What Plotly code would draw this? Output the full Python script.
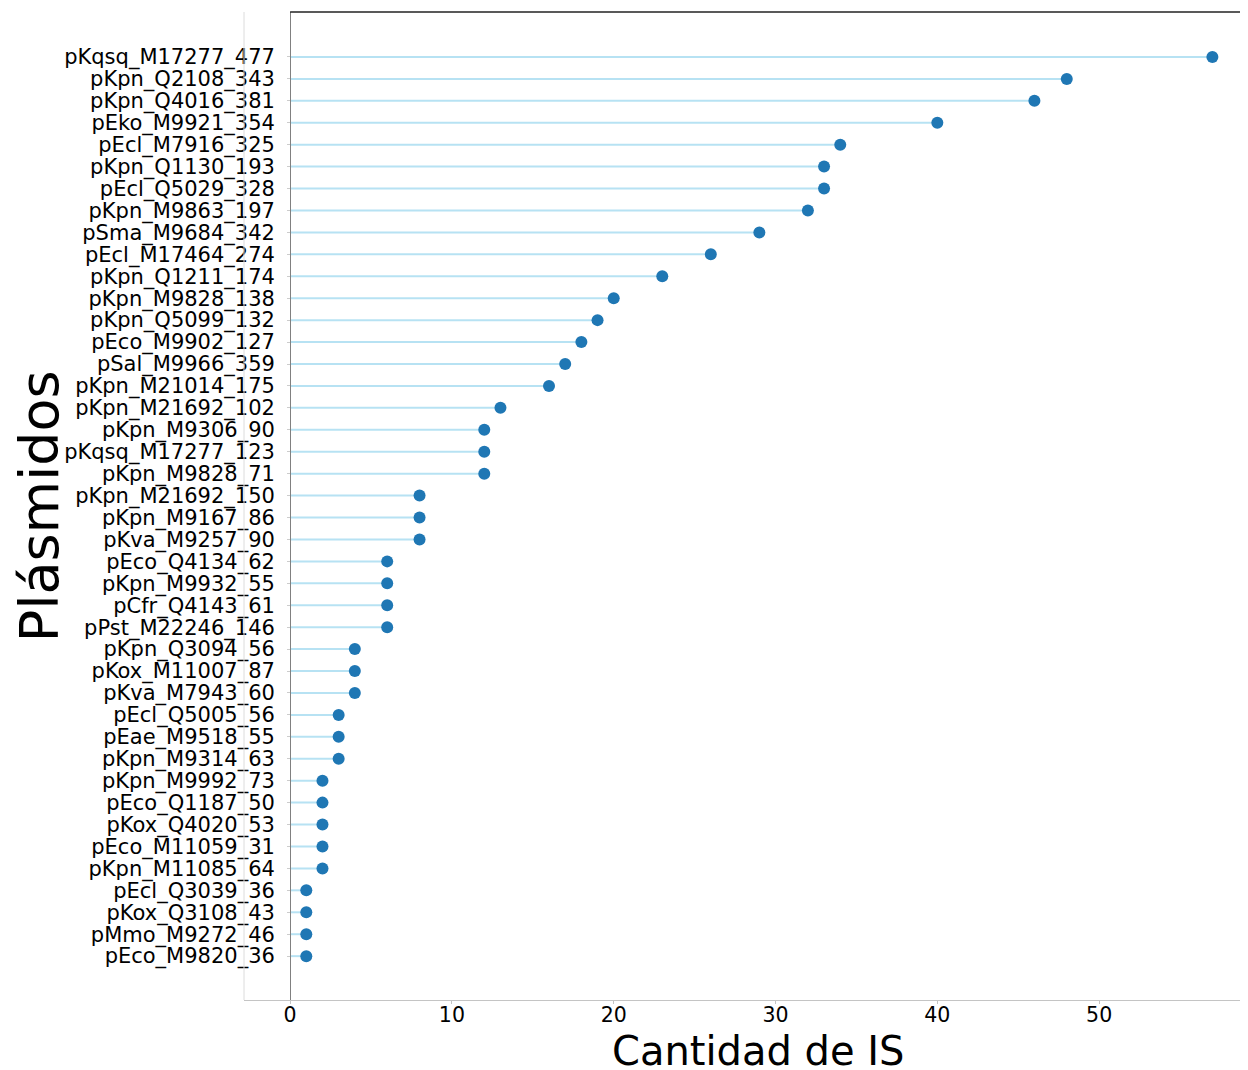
import plotly.graph_objects as go

plasmids = [
    "pKqsq_M17277_477", "pKpn_Q2108_343", "pKpn_Q4016_381", "pEko_M9921_354",
    "pEcl_M7916_325", "pKpn_Q1130_193", "pEcl_Q5029_328", "pKpn_M9863_197",
    "pSma_M9684_342", "pEcl_M17464_274", "pKpn_Q1211_174", "pKpn_M9828_138",
    "pKpn_Q5099_132", "pEco_M9902_127", "pSal_M9966_359", "pKpn_M21014_175",
    "pKpn_M21692_102", "pKpn_M9306_90", "pKqsq_M17277_123", "pKpn_M9828_71",
    "pKpn_M21692_150", "pKpn_M9167_86", "pKva_M9257_90", "pEco_Q4134_62",
    "pKpn_M9932_55", "pCfr_Q4143_61", "pPst_M22246_146", "pKpn_Q3094_56",
    "pKox_M11007_87", "pKva_M7943_60", "pEcl_Q5005_56", "pEae_M9518_55",
    "pKpn_M9314_63", "pKpn_M9992_73", "pEco_Q1187_50", "pKox_Q4020_53",
    "pEco_M11059_31", "pKpn_M11085_64", "pEcl_Q3039_36", "pKox_Q3108_43",
    "pMmo_M9272_46", "pEco_M9820_36",
]
is_count = [
    57, 48, 46, 40, 34, 33, 33, 32, 29, 26, 23, 20, 19, 18, 17, 16, 13, 12, 12, 12,
    8, 8, 8, 6, 6, 6, 6, 4, 4, 4, 3, 3, 3, 2, 2, 2, 2, 2, 1, 1, 1, 1,
]
x_ticks = [0, 10, 20, 30, 40, 50]

xmin, xmax = -2.85, 59.2

# stems from 0 to value
lx, ly = [], []
for name, v in zip(plasmids, is_count):
    lx += [0, v, None]
    ly += [name, name, None]

fig = go.Figure()
fig.add_trace(go.Scatter(x=lx, y=ly, mode="lines",
                         line=dict(color="rgba(135,206,235,0.6)", width=2),
                         hoverinfo="skip", showlegend=False))
fig.add_trace(go.Scatter(x=is_count, y=plasmids, mode="markers",
                         marker=dict(color="#1f77b4", size=12),
                         showlegend=False))

fig.update_layout(
    width=1240, height=1062,
    margin=dict(l=236, r=0, t=4, b=70),
    plot_bgcolor="white", paper_bgcolor="white",
    font=dict(family="DejaVu Sans", color="black"),
    xaxis=dict(range=[xmin, xmax], tickvals=x_ticks, showgrid=False, zeroline=False,
               showline=True, linecolor="#c4c4c4", linewidth=1,
               ticks="outside", ticklen=3, tickcolor="#c4c4c4",
               ticklabelstandoff=-7,
               tickfont=dict(size=20.5)),
    yaxis=dict(type="category", categoryorder="array", categoryarray=plasmids,
               tickmode="array", tickvals=plasmids,
               range=[43.0, -2.05], anchor="free", position=(0 - xmin) / (xmax - xmin),
               showgrid=False, zeroline=False, automargin=False,
               showline=True, linecolor="#808080", linewidth=1,
               ticks="outside", ticklen=3, tickcolor="#cccccc",
               ticklabelstandoff=8,
               tickfont=dict(size=21)),
    shapes=[
        dict(type="line", xref="paper", yref="paper", x0=0, x1=0, y0=0, y1=1,
             line=dict(color="#dcdcdc", width=1)),
        dict(type="line", xref="x", yref="paper", x0=0, x1=xmax, y0=1, y1=1,
             line=dict(color="#222222", width=1.5)),
    ],
    annotations=[
        dict(text="Cantidad de IS", xref="paper", yref="paper", x=0.512, y=-0.052,
             xanchor="center", yanchor="middle", showarrow=False,
             font=dict(size=40)),
        dict(text="Plásmidos", xref="paper", yref="paper", x=-0.204, y=0.5,
             xanchor="center", yanchor="middle", textangle=-90, showarrow=False,
             font=dict(size=54)),
    ],
)

fig.write_html("out.html")
